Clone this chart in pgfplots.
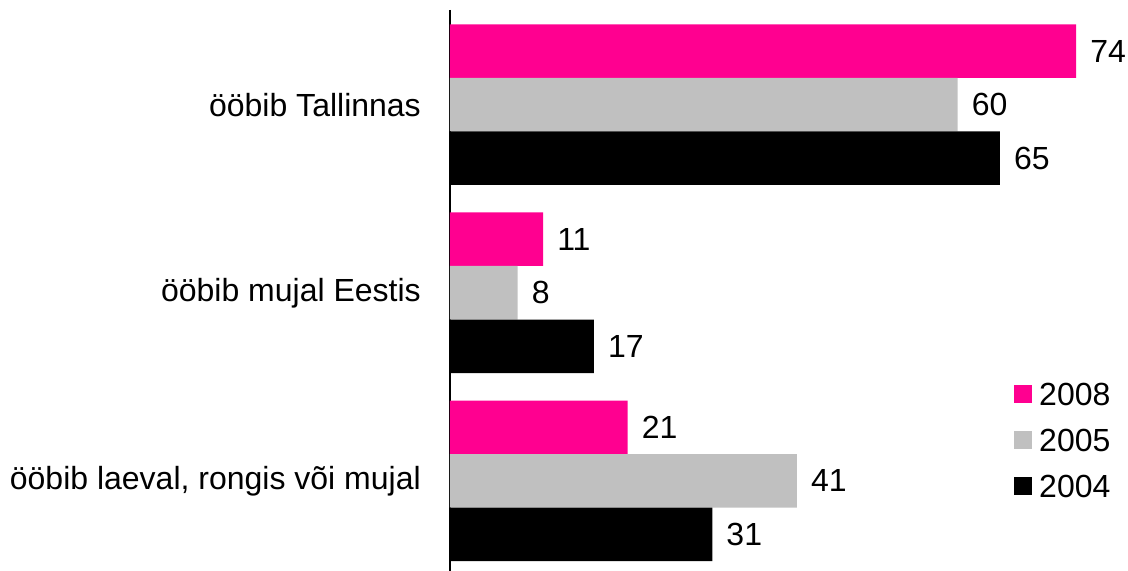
\documentclass[border=0pt]{standalone}
\usepackage{pgfplots}
\pgfplotsset{compat=1.18}
\usepackage{fontspec}
\setmainfont{Liberation Sans}
\definecolor{cpink}{RGB}{255,0,144}
\definecolor{cgray}{RGB}{192,192,192}
\newcommand\lbl{\fontsize{32bp}{38bp}\selectfont}
\begin{document}
\begin{tikzpicture}
\begin{axis}[
  scale only axis, width=678bp, height=561bp,
  xbar, xmin=0, xmax=80.14, ymin=-0.503, ymax=2.479, y dir=reverse,
  bar width=0.2846,
  axis x line=none, axis y line*=left,
  axis line style={line width=1.5bp, black},
  ytick={0,1,2},
  yticklabels={ööbib Tallinnas, ööbib mujal Eestis, {ööbib laeval, rongis või mujal}},
  major tick length=0pt,
  y tick label style={font=\lbl, anchor=east, inner sep=0pt, xshift=-29bp},
  enlargelimits=false,
  clip=false,
  /pgf/number format/assume math mode=true,
  nodes near coords,
  nodes near coords style={font=\lbl, anchor=west, inner sep=0pt, xshift=14bp},
  legend image code/.code={\fill[#1,draw=none] (0bp,-9bp) rectangle (18bp,9bp); \path (25bp,0bp);},
  legend cell align=left,
  legend style={draw=none, fill=none, at={(rel axis cs:0.8275,0.34)}, anchor=north west,
    font=\lbl, row sep=23bp,
    nodes={inner sep=0pt, text height=23bp, text depth=0bp}},
]
\addplot[fill=cpink, draw=none, bar shift=-0.2846] coordinates {(74,0) (11,1) (21,2)};
\addlegendentry{2008}
\addplot[fill=cgray, draw=none, bar shift=0] coordinates {(60,0) (8,1) (41,2)};
\addlegendentry{2005}
\addplot[fill=black, draw=none, bar shift=0.2846] coordinates {(65,0) (17,1) (31,2)};
\addlegendentry{2004}
\end{axis}
\pgfresetboundingbox
\path[use as bounding box] ([xshift=-450bp]current axis.south west) rectangle ([yshift=10bp]current axis.north east);
\end{tikzpicture}
\end{document}
